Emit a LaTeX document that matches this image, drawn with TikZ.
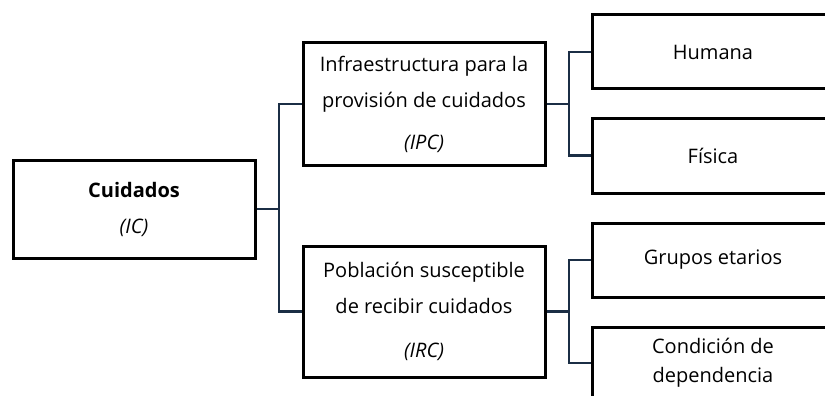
\documentclass[tikz,border=0pt]{standalone}
\usepackage{fontspec}
\setmainfont{Open Sans}
\usepackage{tikz}
\usetikzlibrary{positioning}
\definecolor{navy}{HTML}{1B2E45}

\begin{document}
\begin{tikzpicture}[x=1pt, y=-1pt,
    box/.style={draw, line width=3pt, rectangle, minimum width=242pt, inner sep=0pt,
        align=center, font=\fontsize{20}{36}\selectfont},
    conn/.style={draw=navy, line width=2.6pt}]
    \clip (0,0) rectangle (825,396);

    \node[box, minimum height=98pt] (cuid) at (134,209)
        {\textbf{Cuidados}\\\textit{(IC)}};

    \node[box, minimum height=122pt] (ipc) at (424,104)
        {Infraestructura para la\\provisión de cuidados\\[6pt]\textit{(IPC)}};
    \node[box, minimum height=131pt] (irc) at (424,311.5)
        {Población susceptible\\de recibir cuidados\\[8pt]\textit{(IRC)}};

    \node[box, minimum height=74pt] (hum) at (713,52) {Humana};
    \node[box, minimum height=75pt] (fis) at (713,155.5) {Física};
    \node[box, minimum height=74pt] (gru) at (713,260) {Grupos etarios};
    \node[box, minimum height=72pt, font=\fontsize{20}{29}\selectfont] (con) at (713,363)
        {Condición de\\dependencia};

    \coordinate (j0) at (279,0);
    \coordinate (j1) at (569,0);

    \draw[conn] (cuid.east) -- (cuid.east -| j0);
    \draw[conn] (ipc.west) -- (ipc.west -| j0) -- (irc.west -| j0) -- (irc.west);

    \draw[conn] (ipc.east) -- (ipc.east -| j1);
    \draw[conn] (hum.west) -- (hum.west -| j1) -- (fis.west -| j1) -- (fis.west);
    \draw[conn] (irc.east) -- (irc.east -| j1);
    \draw[conn] (gru.west) -- (gru.west -| j1) -- (con.west -| j1) -- (con.west);
\end{tikzpicture}
\end{document}
